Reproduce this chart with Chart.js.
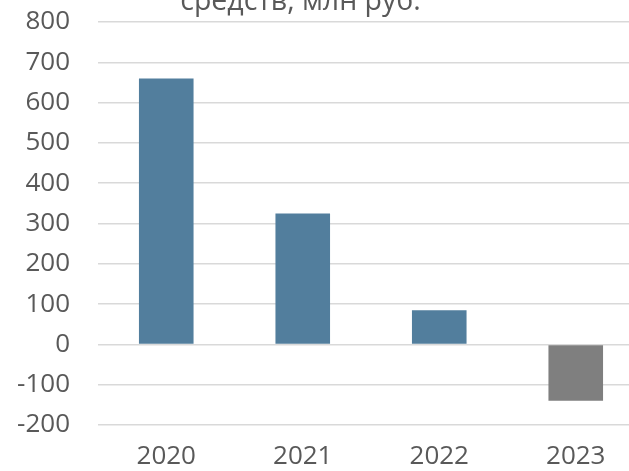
<!DOCTYPE html>
<html>
<head>
<meta charset="utf-8">
<script src="https://cdn.jsdelivr.net/npm/chart.js@4/dist/chart.umd.min.js"></script>
<style>
  html, body { margin: 0; padding: 0; background: #fff; overflow: hidden; }
  #wrap { position: relative; width: 646px; height: 471px; }
</style>
</head>
<body>
<div id="wrap"><canvas id="chart"></canvas></div>
<script>
const years = ['2020', '2021', '2022', '2023'];
const values = [660, 325, 85, -140];
const barColors = ['#527e9d', '#527e9d', '#527e9d', '#7f7f7f'];
const titleText = 'средств, млн руб.';
const yMin = -200;
const yMax = 800;
const yStep = 100;

const textColor = '#595959';
const fontFamily = '"Open Sans", "Noto Sans", sans-serif';

// the title is cut off at the top edge in the reference, only its last line shows
const cutTitle = {
  id: 'cutTitle',
  afterDraw(chart) {
    const ctx = chart.ctx;
    ctx.save();
    ctx.fillStyle = textColor;
    ctx.font = `28.5px ${fontFamily}`;
    ctx.textAlign = 'center';
    ctx.textBaseline = 'alphabetic';
    ctx.fillText(titleText, 300.5, 10);
    ctx.restore();
  },
};

new Chart(document.getElementById('chart'), {
  type: 'bar',
  data: {
    labels: years,
    datasets: [
      {
        data: values,
        backgroundColor: barColors,
        borderWidth: 0,
        categoryPercentage: 1,
        barPercentage: 0.4,
      },
    ],
  },
  options: {
    responsive: true,
    maintainAspectRatio: false,
    animation: false,
    layout: { padding: { top: 22, right: 2, left: 0, bottom: 0 } },
    plugins: {
      legend: { display: false },
      tooltip: { enabled: false },
    },
    scales: {
      x: {
        grid: { display: false, drawTicks: false },
        border: { display: false },
        ticks: {
          color: textColor,
          font: { family: fontFamily, size: 26 },
          padding: 16,
          maxRotation: 0,
        },
        afterFit: (scale) => { scale.height = 46; },
      },
      y: {
        min: yMin,
        max: yMax,
        grid: { color: '#d9d9d9', lineWidth: 1.5, drawTicks: false },
        border: { display: false },
        ticks: {
          stepSize: yStep,
          color: textColor,
          font: { family: fontFamily, size: 26 },
          padding: 28,
        },
        afterFit: (scale) => {
          scale.width = 98;
          scale.paddingTop = 0;
          scale.paddingBottom = 0;
        },
      },
    },
  },
  plugins: [cutTitle],
});
</script>
</body>
</html>
